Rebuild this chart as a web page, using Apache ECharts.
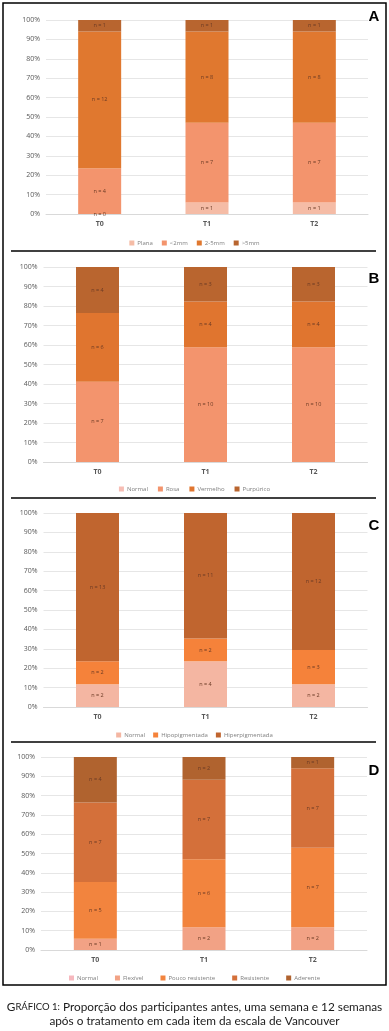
<!DOCTYPE html>
<html><head><meta charset="utf-8">
<script src="https://cdn.jsdelivr.net/npm/echarts@6/dist/echarts.min.js"></script>
<style>html,body{margin:0;padding:0;background:#fff}#c{width:389px;height:1031px}</style>
</head><body><div id="c"></div>
<script>
// Data
const categories = ['T0', 'T1', 'T2'];
const yTicks = [0, 10, 20, 30, 40, 50, 60, 70, 80, 90, 100];

const namesA = ['Plana', '<2mm', '2-5mm', '>5mm'];
const countsA = [[0, 1, 1], [4, 7, 7], [12, 8, 8], [1, 1, 1]];

const namesB = ['Normal', 'Rosa', 'Vermelho', 'Purpúrico'];
const countsB = [[0, 0, 0], [7, 10, 10], [6, 4, 4], [4, 3, 3]];

const namesC = ['Normal', 'Hipopigmentada', 'Hiperpigmentada'];
const countsC = [[2, 4, 2], [2, 2, 3], [13, 11, 12]];

const namesD = ['Normal', 'Flexível', 'Pouco resistente', 'Resistente', 'Aderente'];
const countsD = [[0, 0, 0], [1, 2, 2], [5, 6, 7], [7, 7, 7], [4, 2, 1]];

const panelLetters = ['A', 'B', 'C', 'D'];
const caption1 = 'Proporção dos participantes antes, uma semana e 12 semanas';
const caption2 = 'após o tratamento em cada item da escala de Vancouver';

// Styles
const colorsA = ['#F5BCA6', '#F3946D', '#E0782F', '#B8652F'];
const colorsB = ['#F7BDB4', '#F3946D', '#E0752F', '#B9652F'];
const colorsC = ['#F4B6A2', '#F5823A', '#C0652F'];
const colorsD = ['#F6B8BE', '#F2A285', '#F2843E', '#D4703A', '#B0632F'];

const panels = [
  {names: namesA, counts: countsA, colors: colorsA, showZero: true,
   grid: {left: 46, top: 20, width: 322, height: 194}, legendTop: 235, gap: 9},
  {names: namesB, counts: countsB, colors: colorsB, showZero: false,
   grid: {left: 43.5, top: 267, width: 324, height: 195}, legendTop: 481, gap: 10},
  {names: namesC, counts: countsC, colors: colorsC, showZero: false,
   grid: {left: 43.5, top: 513, width: 324, height: 194}, legendTop: 727, gap: 8},
  {names: namesD, counts: countsD, colors: colorsD, showZero: false,
   grid: {left: 41, top: 757, width: 326, height: 193}, legendTop: 970, gap: 17}
];

const FONT = '"Open Sans", sans-serif';
const grids = [], xAxes = [], yAxes = [], series = [], legends = [];

panels.forEach((p, i) => {
  const totals = categories.map((c, j) => p.counts.reduce((s, arr) => s + arr[j], 0));
  grids.push(p.grid);
  xAxes.push({
    type: 'category', gridIndex: i, data: categories,
    axisLine: {lineStyle: {color: '#d9d9d9'}}, axisTick: {show: false},
    axisLabel: {fontSize: 7, color: '#595959', fontWeight: 'bold', fontFamily: FONT, margin: 6}
  });
  yAxes.push({
    type: 'value', gridIndex: i, min: yTicks[0], max: yTicks[yTicks.length - 1], interval: 10,
    axisLine: {show: false}, axisTick: {show: false},
    axisLabel: {fontSize: 7, color: '#595959', fontFamily: FONT, margin: 6, formatter: '{value}%'},
    splitLine: {lineStyle: {color: '#e6e6e6', width: 1}}
  });
  const legendNames = [];
  p.names.forEach((name, k) => {
    const sname = panelLetters[i] + '|' + name;
    legendNames.push(sname);
    const cnts = p.counts[k];
    series.push({
      type: 'bar', name: sname, stack: 'p' + i, xAxisIndex: i, yAxisIndex: i,
      barWidth: 43,
      data: cnts.map((c, j) => c / totals[j] * 100),
      itemStyle: {color: p.colors[k]},
      label: {
        show: true, position: 'inside', fontSize: 5.5, color: '#6a3a24', fontFamily: FONT,
        formatter: (pp) => (cnts[pp.dataIndex] === 0 && !p.showZero) ? '' : 'n = ' + cnts[pp.dataIndex]
      },
      emphasis: {disabled: true}
    });
  });
  legends.push({
    data: legendNames, left: 'center', top: p.legendTop, icon: 'rect',
    itemWidth: 5, itemHeight: 5, itemGap: p.gap, selectedMode: false,
    formatter: (n) => n.split('|')[1],
    textStyle: {fontSize: 6, color: '#7f7f7f', fontFamily: FONT, padding: [0, 0, 0, -2]}
  });
});

const graphics = [
  {type: 'rect', shape: {x: 3, y: 3, width: 383, height: 982}, style: {fill: 'none', stroke: '#000', lineWidth: 1.5}, silent: true},
  {type: 'line', shape: {x1: 11, y1: 251, x2: 376, y2: 251}, style: {stroke: '#000', lineWidth: 1.5}},
  {type: 'line', shape: {x1: 11, y1: 498, x2: 376, y2: 498}, style: {stroke: '#000', lineWidth: 1.5}},
  {type: 'line', shape: {x1: 11, y1: 742, x2: 376, y2: 742}, style: {stroke: '#000', lineWidth: 1.5}}
];
const letterY = [17, 279, 526, 771];
panelLetters.forEach((L, i) => {
  graphics.push({type: 'text', x: 374, y: letterY[i], style: {text: L, fontSize: 15, fontWeight: 'bold', fill: '#000', fontFamily: '"Liberation Sans", Arial, sans-serif', align: 'center', verticalAlign: 'middle'}});
});
graphics.push({type: 'text', x: 194.5, y: 1007, style: {
  text: '{a|G}{b|RÁFICO 1:}{c| ' + caption1 + '}',
  align: 'center', verticalAlign: 'middle',
  rich: {
    a: {fontSize: 11.8, fill: '#1a1a1a', fontFamily: 'Lato, sans-serif'},
    b: {fontSize: 9.5, fill: '#1a1a1a', fontFamily: 'Lato, sans-serif'},
    c: {fontSize: 11.8, fill: '#1a1a1a', fontFamily: 'Lato, sans-serif'}
  }
}});
graphics.push({type: 'text', x: 194.5, y: 1021, style: {
  text: caption2, align: 'center', verticalAlign: 'middle',
  fontSize: 11.8, fill: '#1a1a1a', fontFamily: 'Lato, sans-serif'
}});

const chart = echarts.init(document.getElementById('c'), null, {renderer: 'canvas'});
chart.setOption({
  animation: false,
  backgroundColor: '#fff',
  grid: grids, xAxis: xAxes, yAxis: yAxes, series: series, legend: legends,
  graphic: graphics
});
</script></body></html>
